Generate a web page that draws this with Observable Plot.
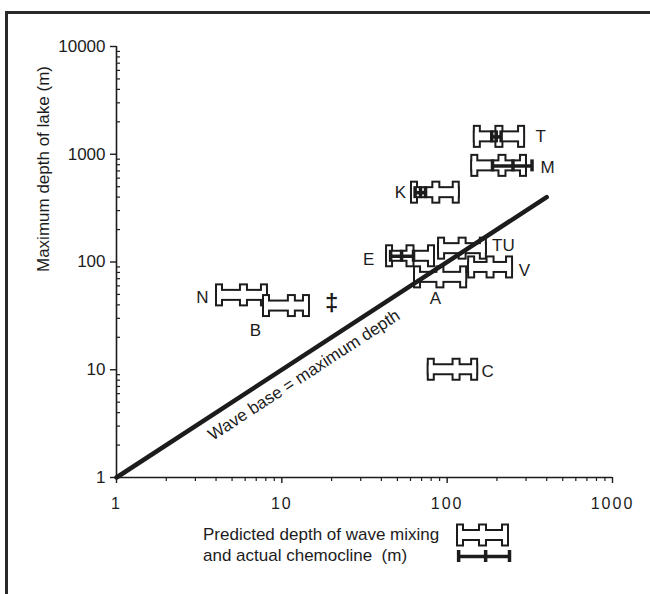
<!DOCTYPE html>
<html>
<head>
<meta charset="utf-8">
<script src="https://cdn.jsdelivr.net/npm/d3@7"></script>
<script src="https://cdn.jsdelivr.net/npm/@observablehq/plot@0.6"></script>
<style>
html, body { margin: 0; padding: 0; background: #fff; }
#wrap { position: relative; width: 650px; height: 594px; overflow: hidden;
        font-family: "Liberation Sans", Arial, Helvetica, sans-serif; color: #1c1c1c; background: #fff; }
#chart { position: absolute; left: 0; top: 0; }
.frame-top { position: absolute; left: 5px; top: 11px; width: 645px; height: 3px; background: #2a2a2a; }
.frame-left { position: absolute; left: 5px; top: 11px; width: 3px; height: 583px; background: #2a2a2a; }
#legendText { position: absolute; left: 203px; top: 524px; font-size: 17px; line-height: 21px; white-space: pre; }
#legendSym { position: absolute; left: 452px; top: 522px; }
g[aria-label="x-axis tick label"] text { letter-spacing: 2px; }
</style>
</head>
<body>
<div id="wrap">
  <div id="chart"></div>
  <div id="legendText"></div>
  <div id="legendSym"></div>
  <div class="frame-top"></div>
  <div class="frame-left"></div>
</div>
<script>
// ---------- data ----------
const lakes    = ["T", "M", "K", "E", "TU", "V", "A", "N", "B", "C"];
const maxDepth = [1450, 780, 440, 113, 133, 89, 72, 49, 39, 10];        // maximum depth of lake (m)
const mixLow   = [144, 139, 60, 42.4, 87.5, 133, 62.6, 3.97, 7.64, 75.8]; // predicted wave-mixing depth, low
const mixMid   = [207, 216, 86, 60, 124, 183, 91, 5.9, 11.5, 114];       // predicted, middle
const mixHigh  = [298, 306, 120, 85, 175, 252, 133, 8.3, 14.9, 155];     // predicted, high

const chemoLakes = ["T", "M", "K", "E"];
const chemoDepth = [1450, 780, 440, 113];
const chemoLow   = [186, 188, 64, 45.5];
const chemoMid   = [198, 250, 69, 53];
const chemoHigh  = [212, 326, 74, 62.6];

const extraMarkText = ["‡"];
const extraMarkX = [20];
const extraMarkY = [41];

const waveBase = [1, 400];          // 1:1 line, wave base = maximum depth
const waveLabel = "Wave base = maximum depth";
const waveLabelAt = 12;

const xTicks = [1, 10, 100, 1000];
const yTicks = [1, 10, 100, 1000, 10000];
const minorSteps = [2, 3, 4, 5, 6, 7, 8, 9];
const xMinor = [1, 10, 100].flatMap(d => minorSteps.map(k => k * d));
const yMinor = [1, 10, 100, 1000].flatMap(d => minorSteps.map(k => k * d));

const yLabel = "Maximum depth of lake (m)";
const legendLines = ["Predicted depth of wave mixing", "and actual chemocline  (m)"];
const legendMix   = [{lo: 0, mid: 0.5, hi: 1, y: 0}];
const legendChemo = [{lo: 0.04, mid: 0.55, hi: 1.0, y: 1}];

// label placement (style): anchor end, dx, dy
const labelPlace = {
  T: ["hi", 15, 0], M: ["hi", 20, 2], K: ["lo", -10, 0], E: ["lo", -17, 3],
  TU: ["hi", 16, -3], V: ["hi", 11, 3], A: ["lo", 22, 21], N: ["lo", -13, 2],
  B: ["lo", -7, 24], C: ["hi", 9, 2]
};

// ---------- build ----------
const INK = "#1c1c1c";
const FONT = "'Liberation Sans', Arial, Helvetica, sans-serif";
const W = 650, H = 520, mL = 116, mR = 38, mT = 46, mB = 43;

const glyphRows = lakes.map((name, i) => ({name, y: maxDepth[i], lo: mixLow[i], mid: mixMid[i], hi: mixHigh[i]}));
const chemoRows = chemoLakes.map((name, i) => ({name, y: chemoDepth[i], lo: chemoLow[i], mid: chemoMid[i], hi: chemoHigh[i]}));

function glyphMarks(rows) {
  const parts = [
    {x1: "lo", x2: "hi", insetLeft: 2, insetRight: 2, insetTop: -4, insetBottom: -4},
    {x1: "lo", x2: "lo", insetLeft: 2, insetRight: -6, insetTop: -9.5, insetBottom: -9.5},
    {x1: "mid", x2: "mid", insetLeft: -2.5, insetRight: -2.5, insetTop: -9.5, insetBottom: -9.5},
    {x1: "hi", x2: "hi", insetLeft: -6, insetRight: 2, insetTop: -9.5, insetBottom: -9.5}
  ];
  return rows.flatMap(r => [
    ...parts.map(p => Plot.rect([r], {...p, y1: "y", y2: "y", fill: INK, stroke: INK, strokeWidth: 4})),
    ...parts.map(p => Plot.rect([r], {...p, y1: "y", y2: "y", fill: "white"}))
  ]);
}

function chemoMarks(rows) {
  return [
    Plot.ruleY(rows, {y: "y", x1: "lo", x2: "hi", stroke: INK, strokeWidth: 3.5}),
    ...["lo", "mid", "hi"].map(k => Plot.ruleX(rows, {x: k, y1: "y", y2: "y", insetTop: -6, insetBottom: -6, stroke: INK, strokeWidth: 3.5}))
  ];
}

const plotW = W - mL - mR, plotH = H - mT - mB;
const angle = -Math.atan((plotH / Math.log10(yTicks[yTicks.length - 1] / yTicks[0])) /
                         (plotW / Math.log10(xTicks[xTicks.length - 1] / xTicks[0]))) * 180 / Math.PI;
const rad = angle * Math.PI / 180;
const gap = 10;

const labelMarks = glyphRows.map(r => {
  const [end, dx, dy] = labelPlace[r.name];
  return Plot.text([r], {x: end, y: "y", text: "name", dx, dy, textAnchor: "middle", fontSize: 17, fill: INK});
});

const chart = Plot.plot({
  width: W, height: H,
  marginLeft: mL, marginRight: mR, marginTop: mT, marginBottom: mB,
  style: {fontFamily: FONT, fontSize: "16px", color: INK, background: "transparent", overflow: "visible"},
  x: {type: "log", domain: [xTicks[0], xTicks[xTicks.length - 1]], label: null},
  y: {type: "log", domain: [yTicks[0], yTicks[yTicks.length - 1]], label: null},
  marks: [
    Plot.axisX(xMinor, {tickSize: 4, tickFormat: () => "", label: null, strokeWidth: 1.2}),
    Plot.axisX(xTicks, {tickSize: 6, tickPadding: 14, tickFormat: d => String(d), label: null, fontSize: 16, strokeWidth: 1.4}),
    Plot.axisY(yTicks, {tickSize: 6, tickPadding: 5, tickFormat: d => String(d), label: null, fontSize: 17, strokeWidth: 1.4}),
    Plot.tickY(yMinor, {y: d => d, insetRight: plotW - 4, stroke: INK, strokeWidth: 1.2}),
    Plot.ruleX([xTicks[0]], {stroke: INK, strokeWidth: 1.6}),
    Plot.ruleY([yTicks[0]], {stroke: INK, strokeWidth: 1.6}),
    ...glyphMarks(glyphRows),
    ...chemoMarks(chemoRows),
    Plot.line(waveBase.map(v => ({d: v})), {x: "d", y: "d", stroke: INK, strokeWidth: 4.5}),
    Plot.text([waveLabel], {x: () => waveLabelAt, y: () => waveLabelAt, text: d => d, rotate: angle,
      lineAnchor: "top", dx: -gap * Math.sin(rad), dy: gap * Math.cos(rad), fontSize: 17, fill: INK}),
    ...labelMarks,
    Plot.text(extraMarkText, {x: (d, i) => extraMarkX[i], y: (d, i) => extraMarkY[i], text: d => d, fontSize: 24, fontWeight: "bold", fill: INK}),
    Plot.text([yLabel], {frameAnchor: "left", text: d => d, rotate: -90, dx: -73, dy: 10, fontSize: 17, fill: INK})
  ]
});
document.getElementById("chart").appendChild(chart);

document.getElementById("legendText").textContent = legendLines.join("\n");

const legend = Plot.plot({
  width: 66, height: 46, margin: 0,
  style: {background: "transparent", overflow: "visible"},
  x: {domain: [0, 1], range: [4, 57], axis: null},
  y: {domain: [0, 1], range: [13, 34], axis: null},
  marks: [...glyphMarks(legendMix), ...chemoMarks(legendChemo)]
});
document.getElementById("legendSym").appendChild(legend);
</script>
</body>
</html>
